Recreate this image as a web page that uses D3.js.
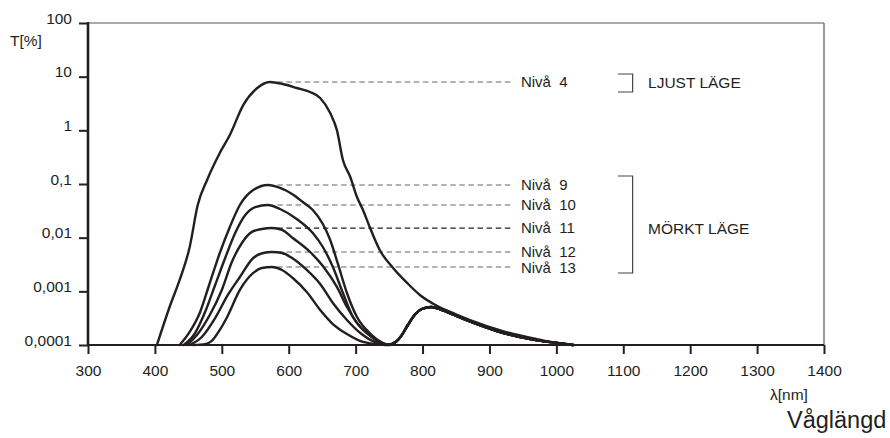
<!DOCTYPE html>
<html><head><meta charset="utf-8">
<script src="https://cdn.jsdelivr.net/npm/d3@7"></script>
<style>
html,body{margin:0;padding:0;background:#fff;}
svg text{font-family:"Liberation Sans",Arial,sans-serif;fill:#231f20;}
</style></head>
<body><svg id="chart" width="890" height="438"></svg>
<script>
// ---------- data ----------
const levelNames = ["Nivå  4","Nivå  9","Nivå  10","Nivå  11","Nivå  12","Nivå  13"];
// wavelength (nm) / transmission T (%) for each level
const lambda4 = [403,423,437,452,464,478,497,512,532,553,572,591,612,632,647,662,672,681,692,702,711,721,736,756,777,796,822,849,871,920,971,1001,1025];
const T4      = [0.0001,0.000557,0.00163,0.0067,0.0406,0.119,0.378,0.818,2.96,6.15,7.96,7.29,6.15,5.18,4.01,2.10,1.01,0.280,0.135,0.0573,0.0328,0.0158,0.00589,0.00272,0.00143,0.000855,0.000533,0.000378,0.000292,0.000182,0.000129,0.000109,0.0001];
const lambda9 = [437,452,467,482,497,512,527,547,569,587,605,621,636,651,662,674,687,702,721,741,751];
const T9      = [0.0001,0.000175,0.000394,0.00143,0.00518,0.0158,0.0406,0.0773,0.0957,0.0843,0.0652,0.0462,0.0328,0.0180,0.00906,0.00310,0.000931,0.000333,0.000167,0.000109,0.0001];
const lambda10 = [443,460,475,490,505,520,535,550,569,587,612,636,651,666,681,696,717,736,751];
const T10      = [0.0001,0.000167,0.000412,0.00131,0.00418,0.0122,0.0264,0.0372,0.0406,0.0342,0.0223,0.0122,0.00670,0.00284,0.000931,0.000333,0.000167,0.000114,0.0001];
const lambda11 = [448,464,482,500,515,530,545,560,575,590,606,632,651,672,687,707,726,747];
const T11      = [0.0001,0.000160,0.000362,0.00106,0.00352,0.00796,0.0128,0.0145,0.0151,0.0139,0.00986,0.00541,0.00296,0.00121,0.000511,0.000217,0.000135,0.0001];
const lambda12 = [452,470,490,509,527,547,562,575,590,605,627,647,666,687,707,732,748];
const T12      = [0.0001,0.000141,0.000318,0.000855,0.00185,0.00418,0.00518,0.00541,0.00518,0.00418,0.00250,0.00137,0.000607,0.000292,0.000167,0.000109,0.0001];
const lambda13 = [457,475,485,497,508,527,547,560,575,590,606,627,647,666,687,711,744];
const T13      = [0.0001,0.000104,0.000119,0.000191,0.000333,0.00106,0.00220,0.00272,0.00284,0.00250,0.00177,0.000973,0.000449,0.000246,0.000160,0.000114,0.0001];
// common near-infrared bump of the dark levels
const lambdaBump = [760,769,778,787,799,813,829,861,911,961,1001,1025];
const TBump      = [0.000114,0.000153,0.000236,0.000348,0.000469,0.000511,0.000449,0.000305,0.000182,0.000129,0.000109,0.0001];

const xTicks = [300,400,500,600,700,800,900,1000,1100,1200,1300,1400];
const yTicks = [0.0001,0.001,0.01,0.1,1,10,100];
const yTickLabels = ["0,0001","0,001","0,01","0,1","1","10","100"];

// ---------- scales ----------
const svg = d3.select("#chart");
const x = d3.scaleLinear().domain([300,1400]).range([88,824]);
const y = d3.scaleLog().domain([0.0001,100]).range([345,23]);
const ink = "#231f20";

const zip = (a,b) => a.map((v,i)=>[v,b[i]]);
const series = [
  zip(lambda4,T4),
  zip(lambda9,T9).concat(zip(lambdaBump,TBump)),
  zip(lambda10,T10).concat(zip(lambdaBump,TBump)),
  zip(lambda11,T11).concat(zip(lambdaBump,TBump)),
  zip(lambda12,T12).concat(zip(lambdaBump,TBump)),
  zip(lambda13,T13).concat(zip(lambdaBump,TBump))
];

// frame (top / right thin lines)
svg.append("line").attr("x1",x(300)).attr("x2",x(1400)).attr("y1",y(100)).attr("y2",y(100))
  .attr("stroke","#555").attr("stroke-width",1.2);
svg.append("line").attr("x1",x(1400)).attr("x2",x(1400)).attr("y1",y(100)).attr("y2",y(0.0001))
  .attr("stroke","#555").attr("stroke-width",1.2);

// axes
const yAxis = d3.axisLeft(y).tickValues(yTicks).tickFormat((d,i)=>yTickLabels[i])
  .tickSize(9).tickSizeOuter(0).tickPadding(7);
const gy = svg.append("g").attr("transform",`translate(${x(300)},0)`).call(yAxis);
gy.select(".domain").remove();
gy.selectAll(".tick line").attr("stroke",ink).attr("stroke-width",2);
gy.selectAll(".tick text").attr("dy","0.02em").style("font-size","15.5px").attr("fill",ink);

const xAxis = d3.axisBottom(x).tickValues(xTicks).tickFormat(d=>String(d))
  .tickSize(9).tickSizeOuter(0).tickPadding(11);
const gx = svg.append("g").attr("transform",`translate(0,${y(0.0001)})`).call(xAxis);
gx.select(".domain").remove();
gx.selectAll(".tick line").attr("stroke",ink).attr("stroke-width",2);
gx.selectAll(".tick text").style("font-size","15.5px").attr("fill",ink);

svg.append("line").attr("x1",x(300)).attr("x2",x(300)).attr("y1",y(100)-1).attr("y2",y(0.0001)+1)
  .attr("stroke",ink).attr("stroke-width",2.6);
svg.append("line").attr("x1",x(300)).attr("x2",x(1400)).attr("y1",y(0.0001)).attr("y2",y(0.0001))
  .attr("stroke",ink).attr("stroke-width",2.2);

// dashed leader lines + labels
const dashStart = 583, dashEnd = 936, labelAt = 947;
const labelNudge = [0,0,0,0,-0.5,0.5];
series.forEach((s,i)=>{
  const peak = d3.max(s, d=>d[1]);
  svg.append("line").attr("x1",x(dashStart)).attr("x2",x(dashEnd))
    .attr("y1",y(peak)).attr("y2",y(peak))
    .attr("stroke", i===3 ? "#222" : "#666").attr("stroke-width",1.2)
    .attr("stroke-dasharray","5.5,3.6");
  svg.append("text").attr("x",x(labelAt)).attr("y",y(peak)+labelNudge[i]).attr("dy","0.36em")
    .style("font-size","15px").style("white-space","pre").text(levelNames[i]);
});

// curves
const line = d3.line().x(d=>x(d[0])).y(d=>y(d[1])).curve(d3.curveMonotoneX);
svg.append("g").selectAll("path").data(series).join("path")
  .attr("d",line).attr("fill","none").attr("stroke",ink)
  .attr("stroke-width",2.4).attr("stroke-linejoin","round").attr("stroke-linecap","round");

// brackets
function bracket(tTop,tBot,yOffTop,yOffBot){
  const x0 = x(1092), x1 = x(1114);
  const yt = y(tTop)+yOffTop, yb = y(tBot)+yOffBot;
  svg.append("path").attr("d",`M${x0},${yt}H${x1}V${yb}H${x0}`)
    .attr("fill","none").attr("stroke","#444").attr("stroke-width",1.2);
}
const pk = series.map(s=>d3.max(s,d=>d[1]));
bracket(pk[0],pk[0],-8,10);
bracket(pk[1],pk[5],-9,6);
svg.append("text").attr("x",x(1137)).attr("y",y(pk[0])).attr("dy","0.36em")
  .style("font-size","15.5px").text("LJUST LÄGE");
svg.append("text").attr("x",x(1137)).attr("y",y(pk[3])).attr("dy","0.36em")
  .style("font-size","15.5px").text("MÖRKT LÄGE");

// axis titles
svg.append("text").attr("x",10).attr("y",46).style("font-size","15.5px").text("T[%]");
svg.append("text").attr("x",770).attr("y",400).style("font-size","15.5px").text("λ[nm]");
svg.append("text").attr("x",787).attr("y",428).style("font-size","23.5px").text("Våglängd");
</script></body></html>
